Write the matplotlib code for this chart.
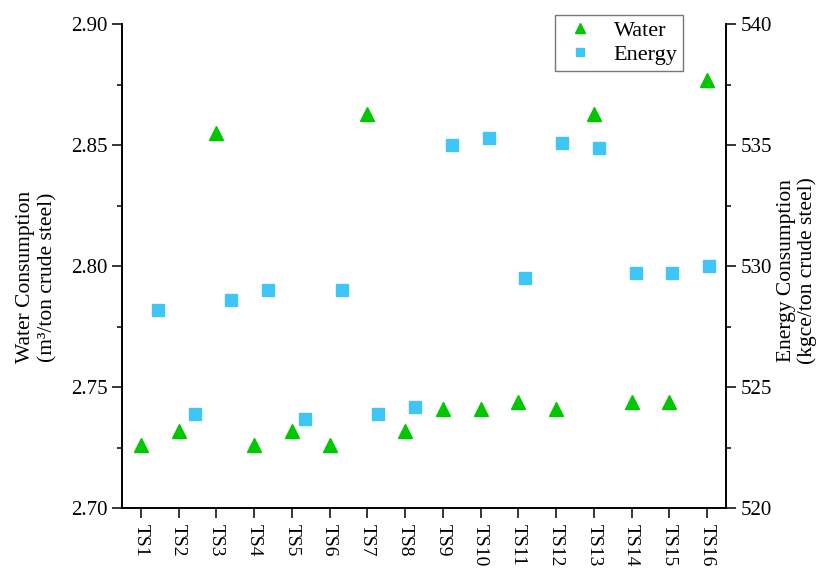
import matplotlib.pyplot as plt
from matplotlib.ticker import MultipleLocator
from matplotlib.lines import Line2D

plt.rcParams['font.family'] = ['Liberation Serif', 'DejaVu Serif']

# data
sites = ["TS1", "TS2", "TS3", "TS4", "TS5", "TS6", "TS7", "TS8",
         "TS9", "TS10", "TS11", "TS12", "TS13", "TS14", "TS15", "TS16"]
water = [2.726, 2.732, 2.855, 2.726, 2.732, 2.726, 2.863, 2.732,
         2.741, 2.741, 2.744, 2.741, 2.863, 2.744, 2.744, 2.877]
energy = [528.2, 523.9, 528.6, 529.0, 523.7, 529.0, 523.9, 524.2,
          535.0, 535.3, 529.5, 535.1, 534.9, 529.7, 529.7, 530.0]

green = "#00c800"
blue = "#3fc6f6"

fig = plt.figure(figsize=(8.21, 5.68), dpi=100)
rect = [0.1486, 0.1051, 0.7357, 0.8526]

#Water layer (left axis)
ax = fig.add_axes(rect)
pos = range(1, len(sites) + 1)
ax.plot(pos, water, linestyle="none", marker="^", markersize=10.5,
        color=green, label="Water")
ax.set_xlim(0.5, 16.5)
ax.set_ylim(2.70, 2.90)
ax.set_xticks(list(pos))
ax.set_xticklabels(sites, rotation=-90, fontsize=14)
ax.yaxis.set_major_locator(MultipleLocator(0.05))
ax.yaxis.set_minor_locator(MultipleLocator(0.025))
ax.yaxis.set_major_formatter(plt.FormatStrFormatter("%.2f"))
ax.spines["top"].set_visible(False)
ax.spines["right"].set_visible(False)
for s in ["left", "bottom"]:
    ax.spines[s].set_linewidth(1.4)
ax.tick_params(which="major", direction="out", length=7, width=1.1)
ax.tick_params(axis="y", labelsize=15)
ax.tick_params(which="minor", direction="out", length=3.6, width=1.1)
ax.tick_params(axis="x", pad=4)

#Energy layer (right axis), in Origin the x scale of this layer is a bit different
ax2 = fig.add_axes(rect)
ax2.patch.set_visible(False)
ax2.plot(pos, energy, linestyle="none", marker="s", markersize=8,
         color=blue, label="Energy")
ax2.set_xlim(0.02, 16.46)
ax2.set_ylim(520, 540)
ax2.xaxis.set_visible(False)
ax2.yaxis.tick_right()
ax2.yaxis.set_major_locator(MultipleLocator(5))
ax2.yaxis.set_minor_locator(MultipleLocator(2.5))
for s in ["left", "top", "bottom"]:
    ax2.spines[s].set_visible(False)
ax2.spines["right"].set_linewidth(1.4)
ax2.tick_params(which="major", direction="out", length=7, width=1.1,
                labelsize=15)
ax2.tick_params(which="minor", direction="out", length=3.6, width=1.1)

#axis titles
fig.text(37 / 821, 1 - 277 / 568, "Water Consumption\n(m³/ton crude steel)",
         rotation=90, ha="center", va="center", fontsize=15.5,
         linespacing=1.25, multialignment="center")
fig.text(797 / 821, 1 - 271 / 568, "Energy Consumption\n(kgce/ton crude steel)",
         rotation=90, ha="center", va="center", fontsize=15.5,
         linespacing=1.15, multialignment="center")

handles = [Line2D([], [], linestyle="none", marker="^", markersize=10.5, color=green),
           Line2D([], [], linestyle="none", marker="s", markersize=8, color=blue)]
leg = ax2.legend(handles, ["Water", "Energy"], loc="upper right",
                 bbox_to_anchor=(683 / 821, 1 - 15 / 568),
                 bbox_transform=fig.transFigure, borderaxespad=0,
                 fancybox=False, edgecolor="#555555", fontsize=16,
                 markerscale=0.75, handletextpad=0.6, labelspacing=0.15,
                 borderpad=0.25, handlelength=1.8)
leg.get_frame().set_linewidth(1.0)

plt.savefig("out.png", dpi=100)
